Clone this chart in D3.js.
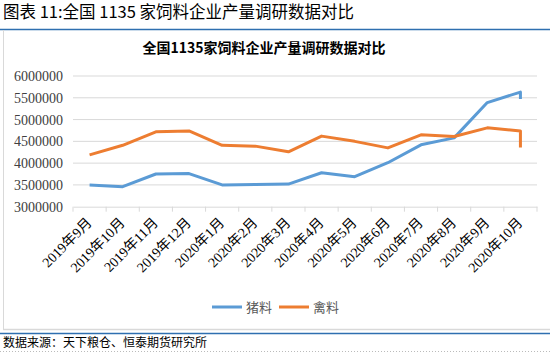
<!DOCTYPE html>
<html>
<head>
<meta charset="utf-8">
<script src="https://cdn.jsdelivr.net/npm/d3@7"></script>
<style>
  body { margin: 0; background: #fff; }
  svg { display: block; }
</style>
</head>
<body>
<svg id="chart"></svg>
<script>
// data
const months = ["2019年9月","2019年10月","2019年11月","2019年12月","2020年1月","2020年2月","2020年3月",
  "2020年4月","2020年5月","2020年6月","2020年7月","2020年8月","2020年9月","2020年10月"]
// last month carries two readings (line drops at the end)
const pointMonths = months.concat(["2020年10月"])
const pigFeed = [3500000,3460000,3750000,3760000,3500000,3510000,3520000,3780000,3690000,4010000,
  4420000,4580000,5390000,5630000,5470000]
const poultryFeed = [4190000,4410000,4720000,4740000,4410000,4390000,4260000,4620000,4500000,4350000,
  4650000,4610000,4810000,4740000,4360000]
const yTicks = [3000000,3500000,4000000,4500000,5000000,5500000,6000000]
const seriesNames = ["猪料","禽料"]

const W = 550, H = 352
const svg = d3.select("#chart").attr("width", W).attr("height", H)

// header
svg.append("text")
  .attr("x", 3).attr("y", 18)
  .style("font-family", "'Noto Sans CJK SC', sans-serif")
  .style("font-size", "16.5px")
  .attr("fill", "#000")
  .text("图表 11:全国 1135 家饲料企业产量调研数据对比")

svg.append("line").attr("x1", 0).attr("x2", W).attr("y1", 29.5).attr("y2", 29.5)
  .attr("stroke", "#2e6fb0").attr("stroke-width", 1.5)

// chart frame (left + bottom grey)
svg.append("line").attr("x1", 3.5).attr("x2", 3.5).attr("y1", 30).attr("y2", 329)
  .attr("stroke", "#d9d9d9").attr("stroke-width", 1)
svg.append("line").attr("x1", 3).attr("x2", W).attr("y1", 329.5).attr("y2", 329.5)
  .attr("stroke", "#d9d9d9").attr("stroke-width", 1.5)

// footer
svg.append("line").attr("x1", 0).attr("x2", W).attr("y1", 333.5).attr("y2", 333.5)
  .attr("stroke", "#2e6fb0").attr("stroke-width", 1.5)
svg.append("text")
  .attr("x", 3).attr("y", 347)
  .style("font-family", "'Noto Sans CJK SC', sans-serif")
  .style("font-size", "12px")
  .attr("fill", "#000")
  .text("数据来源：天下粮仓、恒泰期货研究所")
svg.append("line").attr("x1", 0).attr("x2", W).attr("y1", 351.5).attr("y2", 351.5)
  .attr("stroke", "#bbb").attr("stroke-dasharray", "1,2")

// chart title
svg.append("text")
  .attr("x", 264).attr("y", 53)
  .attr("text-anchor", "middle")
  .style("font-family", "'Noto Sans CJK SC', serif")
  .style("font-size", "14px")
  .style("font-weight", "bold")
  .attr("fill", "#000")
  .text("全国1135家饲料企业产量调研数据对比")

// scales
const x = d3.scaleBand().domain(months).range([73, 537])
const y = d3.scaleLinear().domain([3000000, 6000000]).range([206.7, 76])

// gridlines
svg.append("g").selectAll("line").data(yTicks.slice(1)).join("line")
  .attr("x1", 73).attr("x2", 537)
  .attr("y1", d => y(d)).attr("y2", d => y(d))
  .attr("stroke", "#d9d9d9").attr("stroke-width", 1)

// y axis
const yAxis = svg.append("g").attr("transform", "translate(73,0)")
  .call(d3.axisLeft(y).tickValues(yTicks).tickSize(0).tickPadding(10).tickFormat(d3.format("d")))
yAxis.select(".domain").remove()
yAxis.selectAll("text")
  .style("font-family", "'Liberation Serif', serif")
  .style("font-size", "14px")
  .attr("fill", "#404040")

// x axis
const xAxis = svg.append("g").attr("transform", `translate(0,${y(3000000)})`)
  .call(d3.axisBottom(x).tickSize(0).tickFormat(""))
xAxis.select(".domain").attr("stroke", "#d9d9d9").attr("stroke-width", 1)
const bounds = months.map(m => x(m)).concat([537])
xAxis.selectAll(".tk").data(bounds).join("line").attr("class", "tk")
  .attr("x1", d => d).attr("x2", d => d).attr("y1", 0).attr("y2", 5)
  .attr("stroke", "#d9d9d9")
xAxis.selectAll(".lbl").data(months).join("text").attr("class", "lbl")
  .attr("transform", d => `translate(${x(d) + x.bandwidth() / 2 + 3},${17}) rotate(-45)`)
  .attr("text-anchor", "end")
  .style("font-family", "'Liberation Serif', 'Noto Sans CJK SC', serif")
  .style("font-size", "14px")
  .attr("fill", "#000")
  .text(d => d)

// lines
const colors = ["#5b9bd5", "#ed7d31"]
const line = d3.line()
  .x((d, i) => x(pointMonths[i]) + x.bandwidth() / 2)
  .y(d => y(d))

;[pigFeed, poultryFeed].forEach((vals, k) => {
  svg.append("path").datum(vals)
    .attr("d", line)
    .attr("fill", "none")
    .attr("stroke", colors[k])
    .attr("stroke-width", 3)
    .attr("stroke-linejoin", "round")
})

// legend
const legendX = [212, 279]
seriesNames.forEach((name, k) => {
  const g = svg.append("g").attr("transform", `translate(${legendX[k]},307)`)
  g.append("line").attr("x1", 0).attr("x2", 30).attr("y1", 0).attr("y2", 0)
    .attr("stroke", colors[k]).attr("stroke-width", 3)
  g.append("text").attr("x", 34).attr("y", 5)
    .style("font-family", "'Noto Sans CJK SC', sans-serif")
    .style("font-size", "13px")
    .attr("fill", "#595959")
    .text(name)
})
</script>
</body>
</html>
